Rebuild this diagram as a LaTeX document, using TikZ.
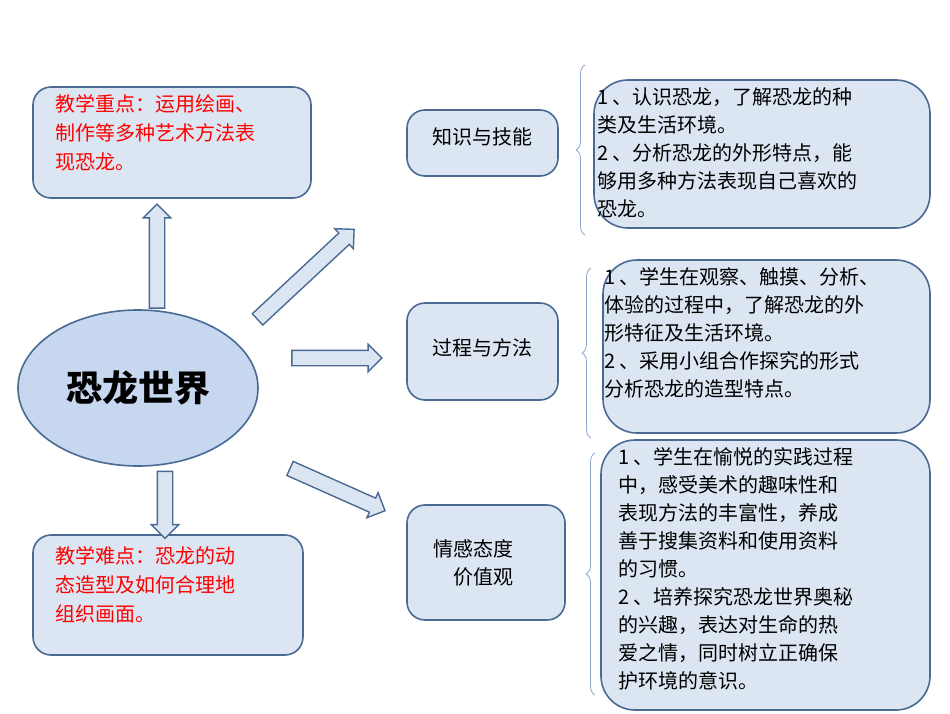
\documentclass[tikz,border=0pt]{standalone}
\usepackage{fontspec}
\setmainfont{Noto Sans CJK SC}
\usetikzlibrary{shapes.arrows,shapes.geometric,decorations.pathreplacing}
\definecolor{boxfill}{HTML}{DCE6F2}
\definecolor{boxline}{HTML}{4A6A94}
\definecolor{ovalfill}{HTML}{C6D7EF}
\definecolor{bracecol}{HTML}{8EA6C8}
\tikzset{
  roundbox/.style={draw=boxline,fill=boxfill,line width=1.6pt,rounded corners=18pt},
  sidebox/.style={draw=boxline,fill=boxfill,line width=1.6pt,rounded corners=34pt},
  fatarrow/.style={single arrow,draw=boxline,fill=boxfill,line width=1.4pt,
    inner sep=7pt,single arrow head extend=6pt,single arrow head indent=0pt,anchor=center},
  sidebrace/.style={draw=bracecol,line width=0.8pt,decorate,decoration={brace,amplitude=9pt,aspect=0.5}},
  redtxt/.style={text=red,font=\fontsize{20}{29}\selectfont,align=left,anchor=north west,inner sep=0pt},
  blacktxt/.style={font=\fontsize{20}{28}\selectfont,align=left,anchor=north west,inner sep=0pt}
}
\begin{document}
\begin{tikzpicture}[x=1pt,y=-1pt]
\useasboundingbox[fill=white] (0,0) rectangle (950,713);
% left side
\draw[roundbox] (33,87) rectangle (311,198);
\node[redtxt] (keyText) at (55,94) {教学重点：运用绘画、\\制作等多种艺术方法表\\现恐龙。};
\draw[roundbox] (33,535) rectangle (303,655);
\node[redtxt] (hardText) at (55,546) {教学难点：恐龙的动\\态造型及如何合理地\\组织画面。};
\node[ellipse,draw=boxline,fill=ovalfill,line width=1.6pt,minimum width=240pt,minimum height=156pt,
  font=\fontsize{36}{40}\selectfont\bfseries] (world) at (138,388) {恐龙世界};
% block arrows
\node[fatarrow,minimum height=104pt,rotate=90] (aUp) at (157,260) {};
\node[fatarrow,minimum height=67pt,rotate=-90] (aDown) at (165,501) {};
\node[fatarrow,minimum height=132pt,rotate=43] (aKnow) at (303,277) {};
\node[fatarrow,minimum height=90pt] (aProc) at (333,358) {};
\node[fatarrow,minimum height=104pt,rotate=-24] (aFeel) at (334,488) {};
% middle column
\draw[roundbox] (407,110) rectangle (558,176);
\node[font=\fontsize{20}{24}\selectfont] (know) at (482,137) {知识与技能};
\draw[roundbox] (407,303) rectangle (558,400);
\node[font=\fontsize{20}{24}\selectfont] (proc) at (482,348) {过程与方法};
\draw[roundbox] (407,505) rectangle (565,620);
\node[font=\fontsize{20}{28}\selectfont,align=left] (feel) at (473,563) {情感态度\\\hspace{1em}价值观};
% braces
\draw[sidebrace] (585,235) -- (585,65);
\draw[sidebrace] (591,438) -- (591,268);
\draw[sidebrace] (595,695) -- (595,453);
% right column
\draw[sidebox] (594,80) rectangle (930,228);
\node[blacktxt] (knowText) at (597,87) {1 、认识恐龙，了解恐龙的种\\类及生活环境。\\2 、分析恐龙的外形特点，能\\够用多种方法表现自己喜欢的\\恐龙。};
\draw[sidebox] (603,260) rectangle (930,433);
\node[blacktxt] (procText) at (604,267) {1 、学生在观察、触摸、分析、\\体验的过程中，了解恐龙的外\\形特征及生活环境。\\2 、采用小组合作探究的形式\\分析恐龙的造型特点。};
\draw[sidebox] (601,440) rectangle (930,710);
\node[blacktxt] (feelText) at (618,447) {1 、学生在愉悦的实践过程\\中，感受美术的趣味性和\\表现方法的丰富性，养成\\善于搜集资料和使用资料\\的习惯。\\2 、培养探究恐龙世界奥秘\\的兴趣，表达对生命的热\\爱之情，同时树立正确保\\护环境的意识。};
\end{tikzpicture}
\end{document}
